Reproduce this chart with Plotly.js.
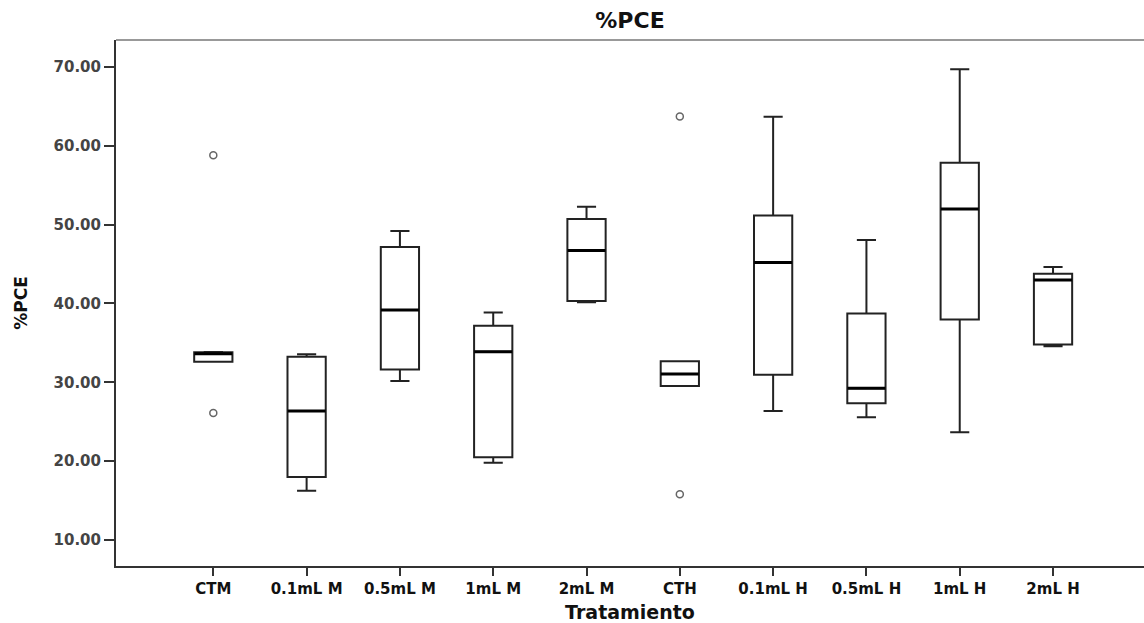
<!DOCTYPE html>
<html>
<head>
<meta charset="utf-8">
<script src="https://cdn.plot.ly/plotly-3.0.1.min.js"></script>
<style>html,body{margin:0;padding:0;background:#fff;}</style>
</head>
<body>
<div id="chart" style="width:1144px;height:623px;"></div>
<script>
const categories = ["CTM","0.1mL M","0.5mL M","1mL M","2mL M","CTH","0.1mL H","0.5mL H","1mL H","2mL H"];
const lowerWhisker = [32.6, 16.25, 30.15, 19.8, 40.13, 29.52, 26.35, 25.55, 23.65, 34.55];
const q1Values     = [32.6, 17.99, 31.63, 20.48, 40.3, 29.52, 30.96, 27.33, 37.97, 34.8];
const medianValues = [33.6, 26.35, 39.15, 33.87, 46.72, 31.04, 45.2, 29.23, 51.96, 42.96];
const q3Values     = [33.8, 33.24, 47.14, 37.17, 50.69, 32.65, 51.16, 38.73, 57.83, 43.76];
const upperWhisker = [33.85, 33.54, 49.17, 38.86, 52.25, 32.65, 63.66, 48.03, 69.7, 44.6];
const outlierCats  = ["CTM","CTM","CTH","CTH"];
const outlierVals  = [58.8, 26.1, 63.7, 15.8];
const yTicks = [10,20,30,40,50,60,70];

const boxTrace = {
  type: "box",
  x: categories,
  q1: q1Values,
  median: medianValues,
  q3: q3Values,
  lowerfence: lowerWhisker,
  upperfence: upperWhisker,
  boxpoints: false,
  width: 0.41,
  whiskerwidth: 0.5,
  fillcolor: "rgba(255,255,255,0)",
  line: {color: "#222", width: 2},
  hoverinfo: "skip",
  showlegend: false
};
const medianTrace = {
  type: "scatter",
  mode: "markers",
  x: categories,
  y: medianValues,
  marker: {symbol: "line-ew", size: 27, color: "#000", line: {color: "#000", width: 3}},
  hoverinfo: "skip",
  showlegend: false
};
const outlierTrace = {
  type: "scatter",
  mode: "markers",
  x: outlierCats,
  y: outlierVals,
  marker: {symbol: "circle-open", size: 7, color: "#666", line: {color: "#666", width: 1.5}},
  hoverinfo: "skip",
  showlegend: false
};

const layout = {
  width: 1144,
  height: 623,
  margin: {l: 116, r: 0, t: 40, b: 57},
  paper_bgcolor: "#fff",
  plot_bgcolor: "#fff",
  font: {family: "DejaVu Sans, Arial, sans-serif", color: "#000"},
  title: {
    text: "<b>%PCE</b>",
    font: {family: "DejaVu Sans", size: 22, color: "#111"},
    x: 0.5, xref: "paper", xanchor: "center",
    y: 1 - 20/623, yref: "container", yanchor: "middle"
  },
  xaxis: {
    type: "category",
    categoryorder: "array",
    categoryarray: categories,
    range: [-1.043, 9.975],
    showgrid: false,
    zeroline: false,
    showline: true,
    linecolor: "#333",
    linewidth: 2,
    ticks: "outside",
    ticklen: 8,
    tickwidth: 2,
    tickcolor: "#333",
    tickfont: {family: "DejaVu Sans", size: 15, color: "#111", weight: "bold"},
    title: {text: "<b>Tratamiento</b>", font: {family: "DejaVu Sans", size: 19, color: "#111"}, standoff: 12},
    automargin: false
  },
  yaxis: {
    range: [6.7, 73.4],
    tickvals: yTicks,
    tickformat: ".2f",
    showgrid: false,
    zeroline: false,
    showline: true,
    linecolor: "#333",
    linewidth: 2,
    ticks: "outside",
    ticklen: 10,
    tickwidth: 2,
    tickcolor: "#333",
    tickfont: {family: "DejaVu Sans", size: 15, color: "#444", weight: "bold"},
    title: {text: "<b>%PCE</b>", font: {family: "DejaVu Sans", size: 17, color: "#111"}, standoff: 22},
    automargin: false
  },
  shapes: [
    {type: "line", xref: "paper", yref: "paper", x0: 0, x1: 1, y0: 1, y1: 1, line: {color: "#777", width: 1.5}}
  ],
  showlegend: false
};

Plotly.newPlot("chart", [boxTrace, medianTrace, outlierTrace], layout, {displayModeBar: false, staticPlot: true});
</script>
</body>
</html>
